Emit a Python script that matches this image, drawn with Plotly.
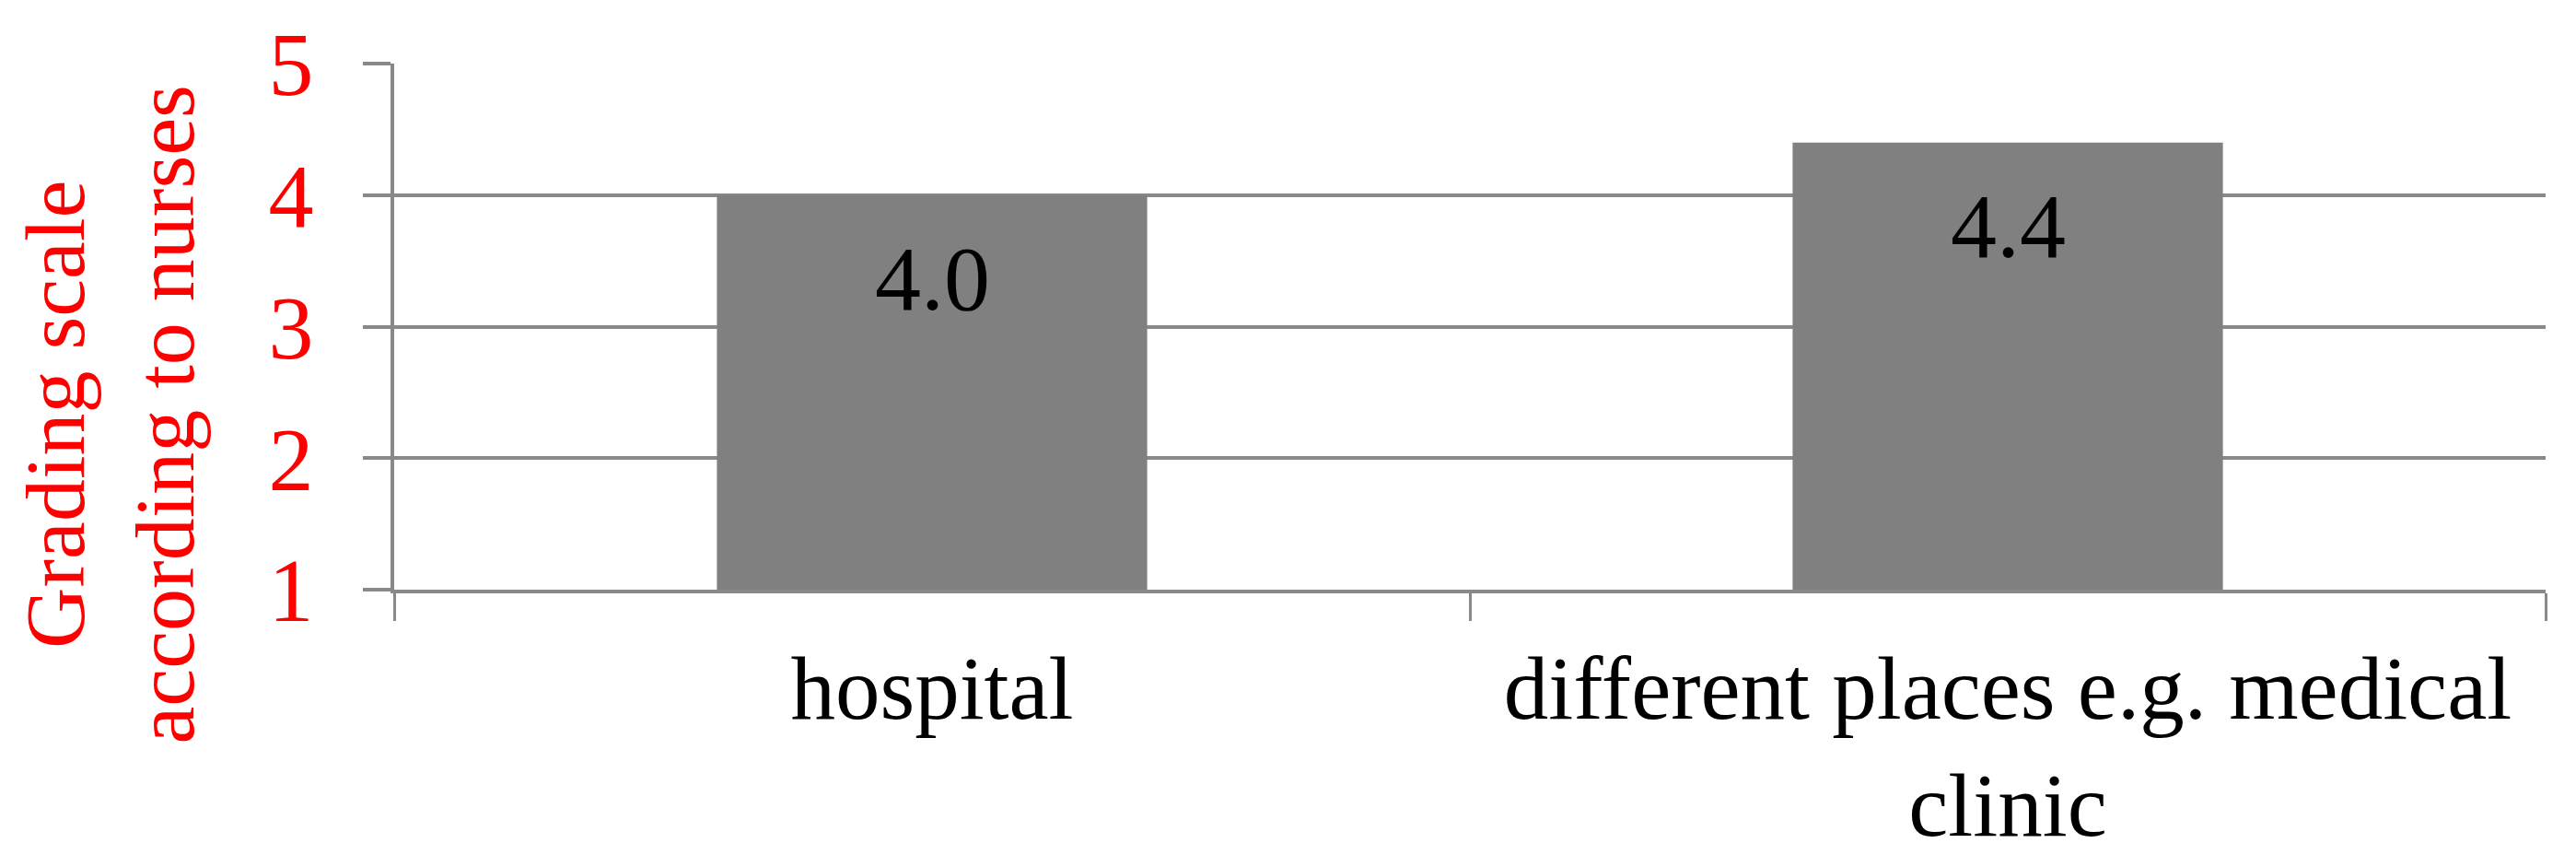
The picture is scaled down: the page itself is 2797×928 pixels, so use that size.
import plotly.graph_objects as go

# data
categories = ["hospital", "different places e.g. medical<br>clinic"]
scores = [4.0, 4.4]
y_ticks = [1, 2, 3, 4, 5]
y_title = "Grading scale<br>according to nurses"

GRID = "#898989"
BAR = "#808080"
RED = "#FF0000"
FONT = "Liberation Serif, Times New Roman, serif"

fig = go.Figure()

fig.add_trace(go.Bar(
    x=categories,
    y=scores,
    width=0.4,
    marker=dict(color=BAR, line=dict(width=0)),
    showlegend=False,
    hoverinfo="skip"))

# value labels sit inside the bar, a bit below its top
for cat, val in zip(categories, scores):
    fig.add_annotation(
        x=cat, y=val, text=f"{val:.1f}",
        showarrow=False, yanchor="top", yshift=-33,
        font=dict(family=FONT, size=100, color="black"))

# two-line red y title, placed like the original (a bit below the axis middle)
fig.add_annotation(
    xref="paper", yref="paper", x=-0.132, y=0.333,
    text=y_title, textangle=-90, showarrow=False,
    xanchor="center", yanchor="middle",
    font=dict(family=FONT, size=92, color=RED))

fig.update_xaxes(
    type="category",
    tickson="boundaries",
    ticks="outside", ticklen=30, tickwidth=3, tickcolor=GRID,
    showline=True, linecolor=GRID, linewidth=4,
    showgrid=False,
    automargin=False,
    ticklabelstandoff=20,
    tickfont=dict(family=FONT, size=97, color="black"))

fig.update_yaxes(
    range=[1, 5],
    tickvals=y_ticks,
    ticks="outside", ticklen=30, tickwidth=4, tickcolor=GRID,
    showline=True, linecolor=GRID, linewidth=4,
    showgrid=True, gridcolor=GRID, gridwidth=4,
    zeroline=False,
    automargin=False,
    ticklabelstandoff=34,
    tickfont=dict(family=FONT, size=98, color=RED))

# the page body adds an 8px offset, so margins are trimmed to keep the plot box in place
fig.update_layout(
    width=2797, height=928,
    margin=dict(l=420, r=41, t=61, b=296),
    plot_bgcolor="white", paper_bgcolor="white",
    font=dict(family=FONT))

fig.write_html("out.html")
